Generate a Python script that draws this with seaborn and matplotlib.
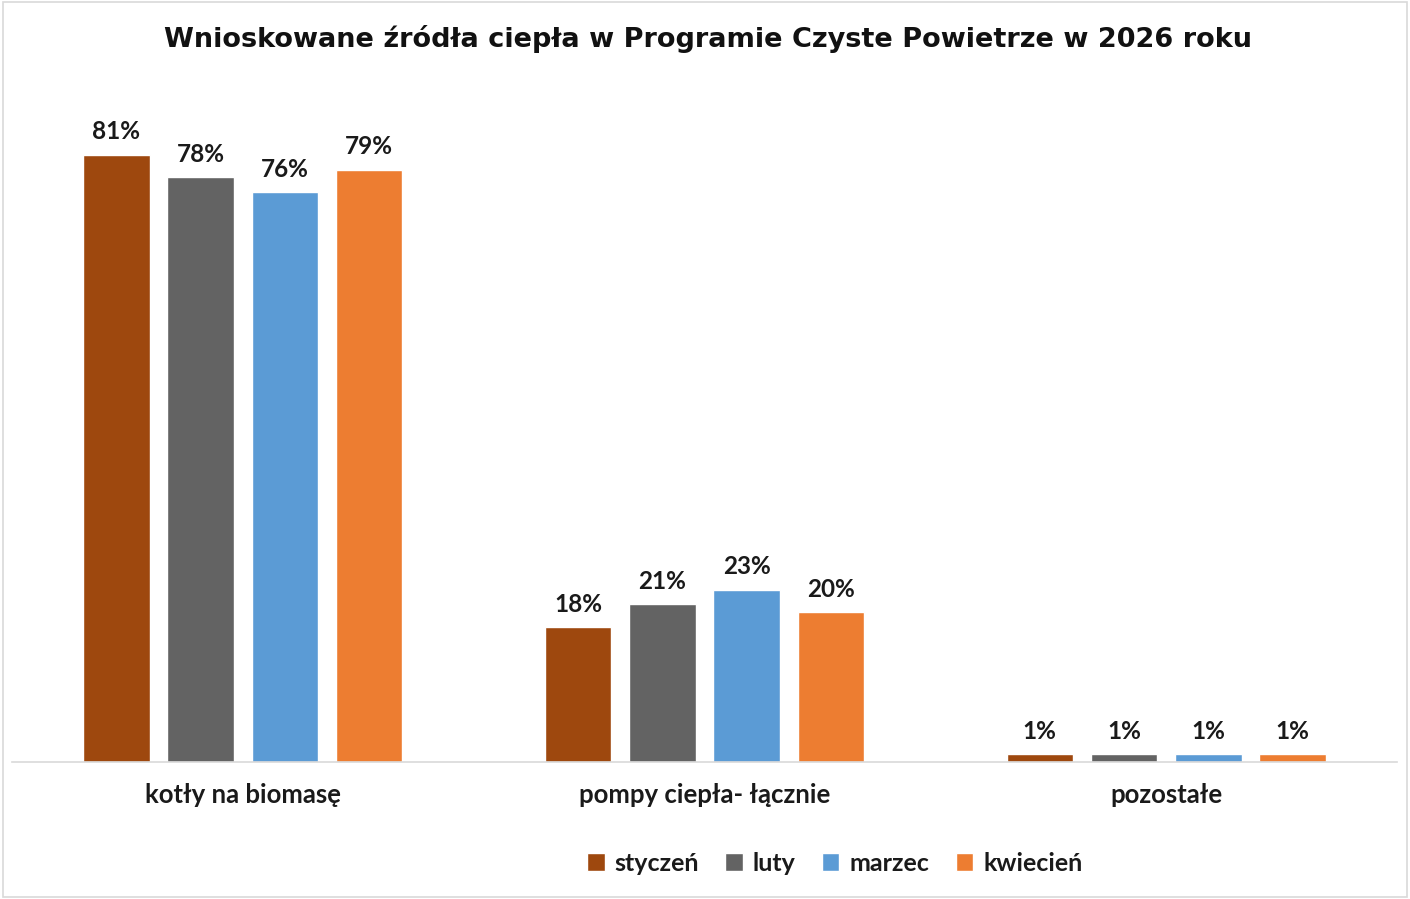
import numpy as np
import pandas as pd
import matplotlib
matplotlib.use("Agg")
import matplotlib.pyplot as plt
import seaborn as sns

# data
categories = ["kotły na biomasę", "pompy ciepła- łącznie", "pozostałe"]
months = ["styczeń", "luty", "marzec", "kwiecień"]
styczen = [81, 18, 1]
luty = [78, 21, 1]
marzec = [76, 23, 1]
kwiecien = [79, 20, 1]

colors = ["#9E480E", "#636363", "#5B9BD5", "#ED7D31"]

df = pd.DataFrame({
    "kategoria": categories * 4,
    "miesiac": np.repeat(months, len(categories)),
    "udzial": styczen + luty + marzec + kwiecien,
})

sns.set_style("white")
plt.rcParams["font.family"] = ["Lato", "DejaVu Sans"]

fig = plt.figure(figsize=(14.10, 8.99), dpi=100)
ax = fig.add_axes([0.0085, 0.1524, 0.9823, 0.7508])

sns.barplot(data=df, x="kategoria", y="udzial", hue="miesiac",
            hue_order=months, palette=colors, width=0.73, gap=0.21,
            saturation=1, errorbar=None, ax=ax, legend=True)

ax.set_ylim(0, 90)
ax.set_xlim(-0.5, 2.5)
ax.set_xlabel("")
ax.set_ylabel("")
ax.set_yticks([])
for s in ["top", "left", "right"]:
    ax.spines[s].set_visible(False)
ax.spines["bottom"].set_color("#D9D9D9")
ax.spines["bottom"].set_linewidth(1.2)
ax.tick_params(axis="x", length=0, pad=15)
for lab in ax.get_xticklabels():
    lab.set_fontsize(18.5)
    lab.set_fontweight("bold")
    lab.set_color("#1a1a1a")

for cont in ax.containers:
    ax.bar_label(cont, labels=[f"{v:.0f}%" for v in cont.datavalues],
                 padding=8, fontsize=17.5, fontweight="bold", color="#1a1a1a")

leg = ax.legend(loc="center", bbox_to_anchor=(0.592, 0.04),
                bbox_transform=fig.transFigure, ncol=4, frameon=False,
                fontsize=18, handlelength=0.7, handleheight=0.7,
                handletextpad=0.4, columnspacing=1.05)
for t in leg.get_texts():
    t.set_fontweight("bold")
    t.set_color("#1a1a1a")

fig.text(0.502, 0.957, "Wnioskowane źródła ciepła w Programie Czyste Powietrze w 2026 roku",
         ha="center", va="center", fontsize=19.5, fontweight="bold",
         family="DejaVu Sans", color="#111111")

fig.patches.append(plt.Rectangle((0.002, 0.002), 0.996, 0.996, transform=fig.transFigure,
                                 fill=False, edgecolor="#D9D9D9", linewidth=1.2))

fig.savefig("out.png", dpi=100)
